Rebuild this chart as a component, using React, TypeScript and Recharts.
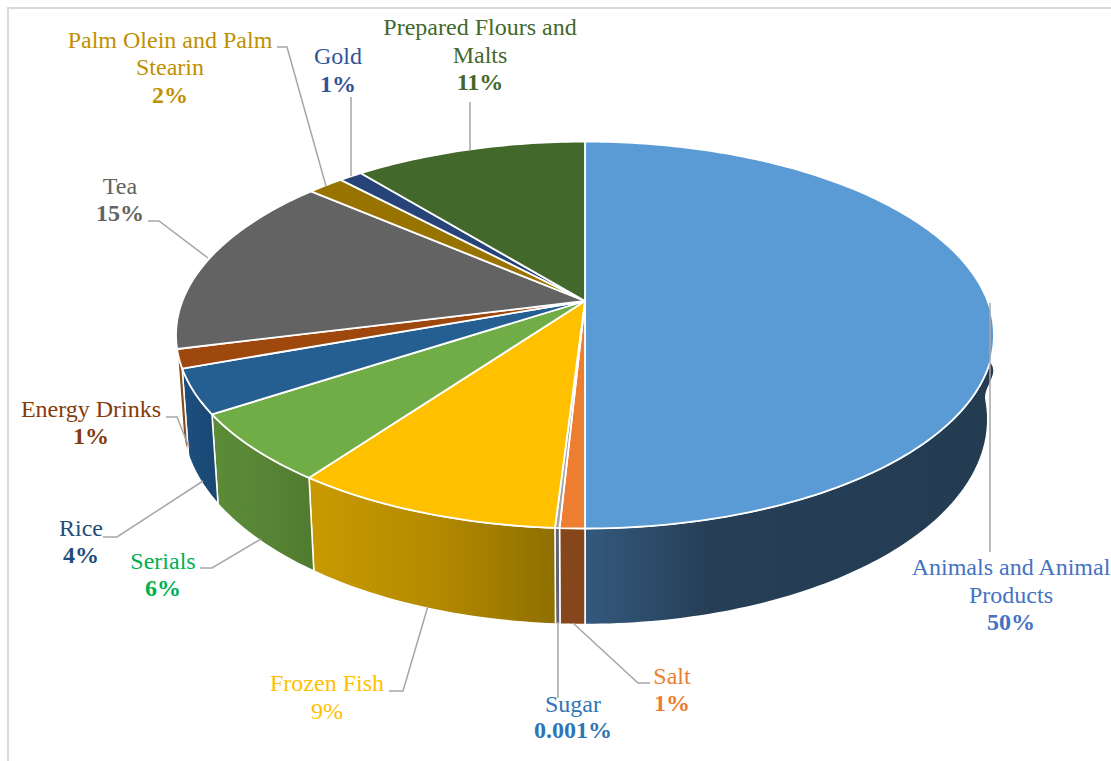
import React from 'react';
import { PieChart, Pie } from 'recharts';

// Categories in clockwise order from 12 o'clock
const categories = ['Animals and Animal Products', 'Salt', 'Sugar', 'Frozen Fish', 'Serials', 'Rice', 'Energy Drinks', 'Tea', 'Palm Olein and Palm Stearin', 'Gold', 'Prepared Flours and Malts'];
// Slice sizes (Sugar is visibly a thin sliver, although it is labelled 0.001%)
const shares = [50, 0.83, 0.15, 9.02, 5.8, 3.7, 1.56, 15.24, 1.7, 1.1, 10.9];
const percentLabels = ['50%', '1%', '0.001%', '9%', '6%', '4%', '1%', '15%', '2%', '1%', '11%'];

const topColors = ['#5b9bd5', '#ed7d31', '#a5a5a5', '#ffc000', '#70ad47', '#255e91', '#9e480e', '#636363', '#997300', '#264478', '#43682b'];
const wallColors: string[][] = [
  ['#34597d', '#263f57', '#233c52'],
  ['#84461a', '#84461a', '#84461a'],
  ['#5f6272', '#5f6272', '#5f6272'],
  ['#c99a00', '#b48a00', '#8f7000'],
  ['#5c8c38', '#578535', '#517b30'],
  ['#1d4f80', '#1b4b78', '#1a4772'],
  ['#8a4a1a', '#8a4a1a', '#8a4a1a'],
  ['#555555', '#555555', '#555555'],
  ['#806000', '#806000', '#806000'],
  ['#1f3864', '#1f3864', '#1f3864'],
  ['#375623', '#375623', '#375623'],
];
const textColors = ['#4472c4', '#ed7d31', '#2e75b6', '#ffc000', '#00b050', '#1f4e79', '#843c0c', '#636363', '#bf9000', '#2f5597', '#43682b'];
const percentBold = [true, true, true, false, true, true, true, true, true, true, true];

// Label layout: text centre, baselines of each line, wrapped lines, leader polyline
const labelLayout: { x: number; ys: number[]; lines: string[]; leader: number[][] }[] = [
  { x: 1011, ys: [575, 603, 630], lines: ['Animals and Animal', 'Products'], leader: [[990, 303], [990, 552]] },
  { x: 672, ys: [684, 711], lines: ['Salt'], leader: [[573, 623], [638, 683], [650, 683]] },
  { x: 573, ys: [712, 738], lines: ['Sugar'], leader: [[558, 622], [558, 698]] },
  { x: 327, ys: [691, 719], lines: ['Frozen Fish'], leader: [[428, 606], [403, 691], [389, 691]] },
  { x: 163, ys: [569, 596], lines: ['Serials'], leader: [[261, 539], [212, 568], [200, 568]] },
  { x: 81, ys: [536, 563], lines: ['Rice'], leader: [[203, 481], [117, 537], [103, 537]] },
  { x: 91, ys: [417, 444], lines: ['Energy Drinks'], leader: [[189, 447], [177, 417], [166, 417]] },
  { x: 120, ys: [194, 221], lines: ['Tea'], leader: [[208, 258], [159, 221], [148, 221]] },
  { x: 170, ys: [48, 75, 103], lines: ['Palm Olein and Palm', 'Stearin'], leader: [[326, 186], [287, 47], [277, 47]] },
  { x: 338, ys: [64, 92], lines: ['Gold'], leader: [[351, 176], [351, 97]] },
  { x: 480, ys: [35, 63, 90], lines: ['Prepared Flours and', 'Malts'], leader: [[470, 150], [470, 102]] },
];

const tableData = categories.map((name, i) => ({ name, value: shares[i], fill: topColors[i] }));

// Perspective parameters of the tilted disc
const SQUASH = 0.4656;
const PERSPECTIVE = 0.176;
const DEPTH = 84;
const DEPTH_SHRINK = 0.015;

function project(cx: number, cy: number, r: number, thetaDeg: number, h: number) {
  const t = (thetaDeg * Math.PI) / 180;
  const u = Math.sin(t);
  const v = -Math.cos(t);
  const w = 1 - PERSPECTIVE * v + DEPTH_SHRINK * h;
  // the lower rim flares slightly where it emerges from behind the top face
  const s = Math.min(1, Math.max(0, (0.08 - v) / 0.18));
  const flare = 1 + 0.05 * h * s * s * (3 - 2 * s);
  return [cx + (r * u * flare) / w, cy + (r * SQUASH * v + DEPTH * h) / w];
}

function arc(cx: number, cy: number, r: number, a0: number, a1: number, h: number) {
  const n = Math.max(2, Math.ceil(Math.abs(a1 - a0)));
  const pts: number[][] = [];
  for (let i = 0; i <= n; i++) pts.push(project(cx, cy, r, a0 + ((a1 - a0) * i) / n, h));
  return pts;
}

const toPath = (pts: number[][]) => 'M' + pts.map((p) => `${p[0].toFixed(2)},${p[1].toFixed(2)}`).join('L') + 'Z';

const TopFace = (props: any) => {
  const { cx, cy, outerRadius, startAngle, endAngle, index } = props;
  const pts = [[cx, cy], ...arc(cx, cy, outerRadius, 90 - startAngle, 90 - endAngle, 0)];
  return <path d={toPath(pts)} fill={topColors[index]} stroke="#ffffff" strokeWidth={1.8} strokeLinejoin="round" />;
};

const Wall = (props: any) => {
  const { cx, cy, outerRadius, startAngle, endAngle, index } = props;
  const a0 = 90 - startAngle;
  const a1 = 90 - endAngle;
  if (-Math.cos((((a0 + a1) / 2) * Math.PI) / 180) < -0.01) return <g />;
  const top = arc(cx, cy, outerRadius, a0, a1, 0);
  const bottom = arc(cx, cy, outerRadius, a0, a1, 1).reverse();
  const id = `wall-${index}`;
  const c = wallColors[index];
  return (
    <g>
      <defs>
        <linearGradient id={id} x1="0" y1="0" x2="1" y2="0">
          <stop offset="0" stopColor={c[0]} />
          <stop offset={index === 0 ? '0.3' : '0.5'} stopColor={c[1]} />
          <stop offset="1" stopColor={c[2]} />
        </linearGradient>
      </defs>
      <path d={toPath([...top, ...bottom])} fill={`url(#${id})`} stroke="#ffffff" strokeWidth={1.5} strokeLinejoin="round" />
    </g>
  );
};

const FONT = "'Liberation Serif', 'Times New Roman', serif";

const renderLabel = (props: any) => {
  const { index } = props;
  const l = labelLayout[index];
  const color = textColors[index];
  return (
    <g key={index} fontFamily={FONT} fontSize={24}>
      <polyline points={l.leader.map((p) => p.join(',')).join(' ')} fill="none" stroke="#a6a6a6" strokeWidth={1.5} />
      {l.lines.map((t, i) => (
        <text key={i} x={l.x} y={l.ys[i]} textAnchor="middle" fill={color}>{t}</text>
      ))}
      <text x={l.x} y={l.ys[l.lines.length]} textAnchor="middle" fill={color} fontWeight={percentBold[index] ? 'bold' : 'normal'}>
        {percentLabels[index]}
      </text>
    </g>
  );
};

export default function App() {
  return (
    <div style={{ position: 'absolute', left: 0, top: 0, width: 1111, height: 761, overflow: 'hidden', background: '#ffffff' }}>
      <div style={{ position: 'absolute', left: 7, top: 7, width: 1200, height: 900, border: '2px solid #d9d9d9', boxSizing: 'border-box' }} />
      <div style={{ position: 'absolute', left: 0, top: 0 }}>
        <PieChart width={1111} height={761} margin={{ top: 0, right: 0, bottom: 0, left: 0 }}>
          <Pie data={tableData} dataKey="value" nameKey="name" cx={585} cy={301} innerRadius={0} outerRadius={402.6} startAngle={90} endAngle={-270} isAnimationActive={false} shape={Wall} label={false} labelLine={false} />
          <Pie data={tableData} dataKey="value" nameKey="name" cx={585} cy={301} innerRadius={0} outerRadius={402.6} startAngle={90} endAngle={-270} isAnimationActive={false} shape={TopFace} label={renderLabel} labelLine={false} />
        </PieChart>
      </div>
    </div>
  );
}
